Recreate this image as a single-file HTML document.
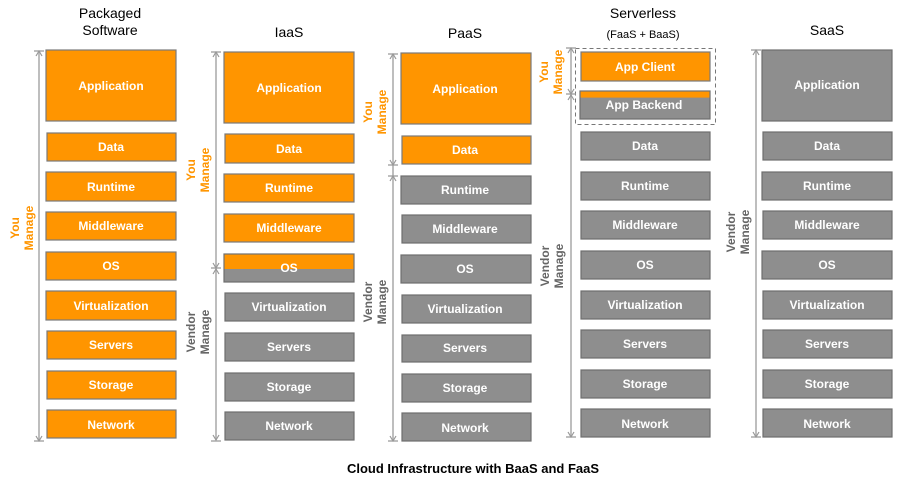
<!DOCTYPE html>
<html><head><meta charset="utf-8"><style>
html,body{margin:0;padding:0;background:#fff;}
svg{display:block;font-family:"Liberation Sans",Arial,sans-serif;}
.o{fill:#ff9500;stroke:#7a7a7a;stroke-width:1.2}
.g{fill:#8e8e8e;stroke:#6e6e6e;stroke-width:1.2}
.t{fill:#fff;font-size:12px;font-weight:bold;text-anchor:middle}
.h{fill:#000;font-size:14px;text-anchor:middle}
.ln{stroke:#a8a8a8;stroke-width:1.5;fill:none}
.tk{stroke:#999;stroke-width:1.2;fill:none}
.yo{fill:#ff9500;font-size:12px;font-weight:bold;text-anchor:middle}
.vd{fill:#666;font-size:12px;font-weight:bold;text-anchor:middle}
</style></head><body>
<svg width="911" height="485" viewBox="0 0 911 485">
<text class="h" x="110" y="18">Packaged</text>
<text class="h" x="110" y="35">Software</text>
<text class="h" x="289" y="37">IaaS</text>
<text class="h" x="465" y="38">PaaS</text>
<text class="h" x="643" y="18">Serverless</text>
<text class="h" x="643" y="38" style="font-size:11px">(FaaS + BaaS)</text>
<text class="h" x="827" y="35">SaaS</text>

<line class="ln" x1="39" y1="51" x2="39" y2="440"/>
<path class="tk" d="M34 51h10M36 56l3-5 3 5M34 441h10M36 436l3 5 3-5"/>
<text transform="translate(19,228) rotate(-90)"><tspan class="yo" x="0" y="0">You</tspan><tspan class="yo" x="0" y="14">Manage</tspan></text>
<rect class="o" x="46" y="50" width="130" height="71"/><text class="t" x="111" y="90">Application</text>
<rect class="o" x="47" y="133" width="129" height="28"/><text class="t" x="111" y="151">Data</text>
<rect class="o" x="46" y="172" width="130" height="29"/><text class="t" x="111" y="191">Runtime</text>
<rect class="o" x="46" y="212" width="130" height="28"/><text class="t" x="111" y="230">Middleware</text>
<rect class="o" x="46" y="252" width="130" height="28"/><text class="t" x="111" y="270">OS</text>
<rect class="o" x="46" y="291" width="130" height="29"/><text class="t" x="111" y="310">Virtualization</text>
<rect class="o" x="47" y="331" width="129" height="28"/><text class="t" x="111" y="349">Servers</text>
<rect class="o" x="47" y="371" width="129" height="28"/><text class="t" x="111" y="389">Storage</text>
<rect class="o" x="47" y="410" width="129" height="28"/><text class="t" x="111" y="429">Network</text>

<line class="ln" x1="216" y1="52" x2="216" y2="440"/>
<path class="tk" d="M211 52h10M213 57l3-5 3 5M211 268h10M213 263l3 5 3-5M213 274l3-5 3 5M213 435l3 5 3-5M211 441h10"/>
<text transform="translate(195,170) rotate(-90)"><tspan class="yo" x="0" y="0">You</tspan><tspan class="yo" x="0" y="14">Manage</tspan></text>
<text transform="translate(195,332) rotate(-90)"><tspan class="vd" x="0" y="0">Vendor</tspan><tspan class="vd" x="0" y="14">Manage</tspan></text>
<rect class="o" x="224" y="52" width="130" height="71"/><text class="t" x="289" y="92">Application</text>
<rect class="o" x="225" y="134" width="129" height="29"/><text class="t" x="289" y="153">Data</text>
<rect class="o" x="224" y="174" width="130" height="28"/><text class="t" x="289" y="192">Runtime</text>
<rect class="o" x="224" y="214" width="130" height="28"/><text class="t" x="289" y="232">Middleware</text>
<rect class="g" x="224" y="254" width="130" height="28"/><rect x="224.6" y="254.6" width="128.8" height="14.4" fill="#ff9500"/><text class="t" x="289" y="272">OS</text>
<rect class="g" x="225" y="293" width="129" height="28"/><text class="t" x="289" y="311">Virtualization</text>
<rect class="g" x="225" y="333" width="129" height="28"/><text class="t" x="289" y="351">Servers</text>
<rect class="g" x="225" y="373" width="129" height="28"/><text class="t" x="289" y="391">Storage</text>
<rect class="g" x="225" y="412" width="129" height="28"/><text class="t" x="289" y="430">Network</text>

<line class="ln" x1="393" y1="54" x2="393" y2="441"/>
<path class="tk" d="M388 54h10M390 59l3-5 3 5M388 165h10M390 160l3 5 3-5M388 176h10M390 181l3-5 3 5M390 436l3 5 3-5M388 441h10"/>
<text transform="translate(372,112) rotate(-90)"><tspan class="yo" x="0" y="0">You</tspan><tspan class="yo" x="0" y="14">Manage</tspan></text>
<text transform="translate(372,302) rotate(-90)"><tspan class="vd" x="0" y="0">Vendor</tspan><tspan class="vd" x="0" y="14">Manage</tspan></text>
<rect class="o" x="401" y="53" width="130" height="71"/><text class="t" x="465" y="93">Application</text>
<rect class="o" x="402" y="136" width="129" height="28"/><text class="t" x="465" y="154">Data</text>
<rect class="g" x="401" y="176" width="130" height="28"/><text class="t" x="465" y="194">Runtime</text>
<rect class="g" x="402" y="215" width="129" height="28"/><text class="t" x="465" y="233">Middleware</text>
<rect class="g" x="401" y="255" width="130" height="28"/><text class="t" x="465" y="273">OS</text>
<rect class="g" x="402" y="295" width="129" height="28"/><text class="t" x="465" y="313">Virtualization</text>
<rect class="g" x="402" y="335" width="129" height="27"/><text class="t" x="465" y="352">Servers</text>
<rect class="g" x="402" y="374" width="129" height="28"/><text class="t" x="465" y="392">Storage</text>
<rect class="g" x="402" y="413" width="129" height="28"/><text class="t" x="465" y="432">Network</text>

<rect x="575.5" y="48.5" width="140" height="76" fill="none" stroke="#777" stroke-dasharray="4,3"/>
<line class="ln" x1="571" y1="48" x2="571" y2="437"/>
<path class="tk" d="M566 48h10M568 53l3-5 3 5M566 94h10M568 89l3 5 3-5M568 100l3-5 3 5M568 432l3 5 3-5M566 437h10"/>
<text transform="translate(548,72) rotate(-90)"><tspan class="yo" x="0" y="0">You</tspan><tspan class="yo" x="0" y="14">Manage</tspan></text>
<text transform="translate(549,266) rotate(-90)"><tspan class="vd" x="0" y="0">Vendor</tspan><tspan class="vd" x="0" y="14">Manage</tspan></text>
<rect class="o" x="581" y="52" width="129" height="29"/><text class="t" x="645" y="71">App Client</text>
<rect class="g" x="580" y="91" width="130" height="28"/><rect x="580.6" y="91.6" width="128.8" height="6" fill="#ff9500"/><text class="t" x="644" y="109">App Backend</text>
<rect class="g" x="581" y="132" width="129" height="28"/><text class="t" x="645" y="150">Data</text>
<rect class="g" x="581" y="172" width="129" height="28"/><text class="t" x="645" y="190">Runtime</text>
<rect class="g" x="581" y="211" width="129" height="28"/><text class="t" x="645" y="229">Middleware</text>
<rect class="g" x="581" y="251" width="129" height="28"/><text class="t" x="645" y="269">OS</text>
<rect class="g" x="581" y="291" width="129" height="28"/><text class="t" x="645" y="309">Virtualization</text>
<rect class="g" x="581" y="330" width="129" height="28"/><text class="t" x="645" y="348">Servers</text>
<rect class="g" x="581" y="370" width="129" height="28"/><text class="t" x="645" y="388">Storage</text>
<rect class="g" x="581" y="409" width="129" height="28"/><text class="t" x="645" y="428">Network</text>

<line class="ln" x1="756" y1="50" x2="756" y2="437"/>
<path class="tk" d="M751 50h10M753 55l3-5 3 5M753 432l3 5 3-5M751 437h10"/>
<text transform="translate(735,232) rotate(-90)"><tspan class="vd" x="0" y="0">Vendor</tspan><tspan class="vd" x="0" y="14">Manage</tspan></text>
<rect class="g" x="762" y="50" width="130" height="71"/><text class="t" x="827" y="89">Application</text>
<rect class="g" x="763" y="132" width="129" height="28"/><text class="t" x="827" y="150">Data</text>
<rect class="g" x="762" y="172" width="130" height="28"/><text class="t" x="827" y="190">Runtime</text>
<rect class="g" x="763" y="211" width="129" height="28"/><text class="t" x="827" y="229">Middleware</text>
<rect class="g" x="762" y="251" width="130" height="28"/><text class="t" x="827" y="269">OS</text>
<rect class="g" x="763" y="291" width="129" height="28"/><text class="t" x="827" y="309">Virtualization</text>
<rect class="g" x="763" y="330" width="129" height="28"/><text class="t" x="827" y="348">Servers</text>
<rect class="g" x="763" y="370" width="129" height="28"/><text class="t" x="827" y="388">Storage</text>
<rect class="g" x="763" y="409" width="129" height="28"/><text class="t" x="827" y="428">Network</text>

<text x="473" y="473" style="font-size:13px;font-weight:bold;text-anchor:middle;fill:#000">Cloud Infrastructure with BaaS and FaaS</text>
</svg>
</body></html>
